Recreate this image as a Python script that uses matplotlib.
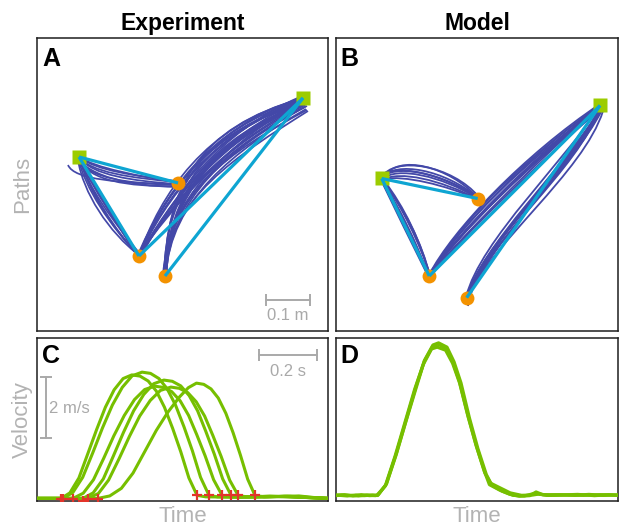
import matplotlib
matplotlib.use('Agg')
import matplotlib.pyplot as plt
from matplotlib.path import Path
from matplotlib.patches import PathPatch

plt.rcParams['font.family'] = ['Liberation Sans', 'DejaVu Sans']

# ---------------- data: panel A (experiment paths, cm) ----------------
A_target_names = ['S1', 'S2', 'O1', 'O2', 'O3']
A_target_x = [9.55, 60.45, 32.05, 23.18, 29.09]
A_target_y = [39.55, 52.95, 33.64, 17.05, 12.5]

# each path: cubic Bezier (start, control1, control2, end)
A_bundle_S1_O1 = [
    [(9.55, 39.55), (12.05, 36.14), (21.14, 34.77), (32.05, 33.86)],
    [(9.77, 39.32), (12.5, 35.45), (21.59, 34.09), (31.82, 33.41)],
    [(9.32, 39.09), (11.59, 34.77), (20.68, 33.41), (32.27, 33.18)],
    [(10.0, 39.32), (13.18, 36.59), (22.27, 35.23), (31.59, 34.09)],
    [(9.55, 38.86), (12.05, 34.32), (20.0, 32.73), (32.05, 32.95)],
    [(7.05, 37.73), (8.41, 34.32), (18.86, 33.64), (31.82, 33.41)],
    [(9.77, 39.55), (12.95, 37.05), (23.41, 35.23), (32.27, 33.64)],
    [(9.32, 39.32), (11.82, 35.23), (21.14, 32.95), (31.59, 32.73)],
]
A_bundle_S1_O2 = [
    [(9.55, 39.55), (11.59, 32.05), (17.05, 23.41), (23.18, 17.05)],
    [(9.77, 39.32), (12.05, 31.59), (17.73, 22.95), (22.95, 17.27)],
    [(9.32, 39.32), (10.91, 32.5), (16.59, 23.86), (23.41, 16.82)],
    [(9.55, 39.09), (12.95, 32.05), (18.41, 23.86), (23.18, 17.27)],
    [(10.0, 39.55), (12.5, 33.18), (17.95, 24.32), (22.73, 17.5)],
    [(9.32, 38.86), (10.45, 31.59), (16.14, 22.5), (23.41, 17.05)],
    [(9.77, 39.55), (13.41, 32.5), (18.86, 23.41), (22.95, 16.82)],
    [(9.55, 39.32), (11.36, 33.18), (17.27, 24.77), (23.64, 17.27)],
]
A_bundle_O2_S2 = [
    [(23.18, 17.05), (29.09, 29.77), (40.45, 45.68), (60.45, 52.73)],
    [(23.41, 17.27), (27.95, 29.77), (38.86, 46.59), (60.23, 52.95)],
    [(22.95, 16.82), (30.23, 29.32), (42.05, 44.32), (60.91, 52.27)],
    [(23.18, 17.27), (28.64, 30.91), (39.32, 46.14), (60.68, 52.05)],
    [(23.41, 16.82), (29.77, 28.64), (42.73, 43.41), (60.0, 52.5)],
    [(22.95, 17.27), (27.5, 28.64), (39.77, 47.5), (61.14, 51.59)],
    [(23.64, 17.05), (30.68, 30.23), (41.14, 45.23), (59.77, 53.18)],
    [(23.18, 16.82), (29.32, 27.95), (43.41, 42.27), (61.36, 51.14)],
    [(23.41, 17.05), (28.41, 30.23), (38.18, 45.68), (60.45, 51.82)],
    [(22.95, 17.05), (30.23, 27.5), (43.86, 43.86), (60.68, 52.5)],
    [(23.18, 17.05), (27.95, 30.91), (38.18, 46.82), (59.77, 52.73)],
    [(23.41, 17.05), (29.55, 29.09), (41.59, 44.55), (60.68, 52.73)],
    [(23.18, 16.82), (28.86, 30.23), (39.77, 45.23), (60.23, 52.27)],
    [(22.95, 17.05), (30.0, 28.41), (42.95, 42.95), (61.14, 51.82)],
]
A_bundle_O3_S2 = [
    [(29.09, 12.5), (29.32, 30.91), (40.45, 43.41), (60.45, 52.05)],
    [(28.86, 12.73), (29.55, 31.59), (41.59, 42.73), (60.68, 51.59)],
    [(29.32, 12.27), (30.0, 30.23), (43.86, 41.59), (60.91, 50.91)],
    [(29.09, 12.95), (28.86, 32.05), (38.18, 45.68), (60.0, 52.5)],
    [(28.64, 12.5), (29.77, 30.68), (42.73, 42.05), (60.91, 51.36)],
    [(29.32, 12.73), (30.23, 29.77), (45.0, 41.14), (61.14, 50.45)],
    [(28.86, 12.27), (29.09, 32.5), (39.32, 44.55), (60.23, 52.27)],
    [(29.09, 12.73), (29.77, 31.14), (43.41, 40.68), (61.36, 50.23)],
    [(29.55, 12.5), (29.09, 31.36), (39.77, 43.86), (60.68, 51.82)],
    [(29.09, 12.27), (30.0, 32.05), (42.05, 43.41), (60.45, 51.82)],
    [(28.86, 12.5), (29.32, 30.45), (44.32, 42.27), (61.14, 51.14)],
    [(29.32, 12.5), (28.64, 31.59), (37.05, 46.82), (59.77, 52.5)],
    [(29.09, 12.73), (30.23, 31.14), (41.14, 44.09), (60.91, 51.59)],
    [(28.86, 12.5), (29.55, 30.0), (45.68, 40.0), (61.59, 50.0)],
]

# ---------------- data: panel B (model paths, cm) ----------------
B_target_names = ['S1', 'S2', 'O1', 'O2', 'O3']
B_target_x = [10.39, 60.0, 32.2, 21.2, 29.7]
B_target_y = [34.66, 51.25, 30.11, 12.5, 7.57]

B_bundle_S1_O1 = [
    [(10.45, 34.77), (13.41, 38.86), (24.77, 36.59), (32.05, 30.45)],
    [(10.23, 34.55), (12.73, 38.18), (23.64, 36.14), (32.27, 30.23)],
    [(10.68, 34.77), (14.09, 40.68), (25.91, 37.05), (31.82, 30.68)],
    [(10.45, 34.32), (14.55, 36.59), (23.64, 34.32), (32.27, 30.0)],
    [(10.0, 35.0), (12.27, 38.41), (25.45, 35.68), (32.05, 30.23)],
    [(10.45, 34.55), (15.68, 35.45), (24.77, 33.18), (32.05, 30.0)],
    [(10.23, 34.77), (13.18, 40.0), (26.36, 37.73), (32.5, 30.45)],
    [(10.68, 34.55), (13.64, 37.5), (24.09, 35.23), (32.05, 30.23)],
]
B_bundle_S1_O2 = [
    [(10.45, 34.55), (14.55, 27.5), (18.18, 20.0), (21.14, 12.5)],
    [(10.68, 34.32), (15.23, 27.73), (18.86, 20.23), (21.36, 12.73)],
    [(10.23, 34.55), (14.09, 27.05), (17.73, 19.55), (21.14, 12.27)],
    [(10.45, 34.09), (15.0, 27.05), (18.64, 19.32), (20.91, 12.5)],
    [(10.68, 34.55), (15.68, 27.95), (19.09, 20.68), (21.36, 12.5)],
    [(10.45, 34.32), (14.32, 27.5), (17.95, 20.0), (21.14, 12.5)],
    [(10.45, 34.32), (15.91, 27.27), (19.55, 19.77), (21.36, 12.5)],
    [(10.23, 34.32), (13.64, 27.27), (17.27, 19.77), (20.91, 12.5)],
]
B_bundle_O2_S2 = [
    [(21.14, 12.5), (27.73, 22.5), (44.09, 38.86), (60.0, 51.14)],
    [(21.36, 12.73), (26.82, 23.41), (43.18, 39.77), (60.23, 51.36)],
    [(20.91, 12.27), (28.64, 21.59), (45.0, 37.95), (59.77, 50.91)],
    [(21.14, 12.73), (26.36, 22.95), (42.73, 40.0), (60.0, 51.59)],
    [(21.36, 12.27), (29.09, 22.05), (45.45, 37.5), (60.23, 50.68)],
    [(21.14, 12.5), (27.27, 23.18), (43.64, 39.32), (60.45, 51.14)],
    [(20.91, 12.5), (28.18, 22.27), (44.55, 38.41), (59.77, 51.36)],
    [(21.36, 12.5), (27.5, 21.82), (43.86, 38.18), (60.23, 50.91)],
    [(21.14, 12.27), (27.05, 22.73), (43.41, 39.55), (60.0, 51.36)],
    [(20.91, 12.73), (28.41, 22.73), (44.77, 38.64), (60.45, 50.91)],
]
B_bundle_O3_S2 = [
    [(29.77, 7.5), (33.18, 19.55), (54.32, 37.73), (60.0, 50.68)],
    [(29.55, 7.05), (32.27, 18.86), (53.18, 38.41), (60.23, 50.91)],
    [(30.0, 7.73), (34.09, 20.23), (55.45, 37.05), (59.77, 50.45)],
    [(29.77, 6.14), (32.73, 18.41), (53.64, 36.59), (60.45, 50.23)],
    [(29.55, 7.5), (33.64, 20.68), (55.0, 38.86), (60.0, 51.14)],
    [(30.0, 5.68), (31.82, 17.95), (52.27, 37.5), (60.23, 50.45)],
    [(29.77, 7.27), (34.55, 19.32), (56.36, 36.14), (60.68, 50.0)],
    [(29.55, 7.73), (32.73, 20.68), (52.73, 39.32), (59.77, 50.91)],
    [(29.77, 7.05), (33.86, 18.86), (54.55, 37.95), (60.45, 50.68)],
    [(30.0, 7.5), (32.5, 19.77), (53.86, 37.05), (60.0, 50.23)],
]

# straight reference segments (target name pairs), same for A and B
segments = [('S1', 'O1'), ('S1', 'O2'), ('O2', 'S2'), ('O3', 'S2')]

# ---------------- data: panel C (experiment velocity; s, m/s) ----------------
C_t = [
    [0, .05, .083, .113, .144, .174, .205, .235, .265, .296, .326,
     .354, .382, .410, .438, .466, .494, .522, .550, .58, .7, .8, .9, 1.0],
    [0, .05, .089, .123, .157, .191, .225, .259, .293, .327, .361,
     .390, .419, .447, .476, .505, .534, .562, .591, .62, .7, .8, .9, 1.0],
    [0, .06, .124, .159, .194, .229, .264, .300, .335, .370, .405,
     .434, .463, .492, .521, .549, .578, .607, .636, .67, .75, .85, .92, 1.0],
    [0, .08, .158, .193, .228, .262, .297, .332, .367, .401, .436,
     .465, .494, .523, .552, .580, .609, .638, .667, .70, .78, .86, .93, 1.0],
    [0, .09, .175, .211, .246, .282, .318, .353, .389, .424, .460,
     .489, .518, .547, .576, .604, .633, .662, .691, .72, .79, .87, .94, 1.0],
    [0, .1, .210, .25, .29, .33, .37, .41, .45, .49, .52, .548,
     .573, .598, .623, .649, .674, .699, .724, .749, .78, .84, .9, .95, 1.0],
]
C_v = [
    [.02, .02, .02, .20, .69, 1.47, 2.28, 3.01, 3.58, 3.95, 4.07,
     4.03, 3.87, 3.54, 3.01, 2.32, 1.55, .69, .12, .07, .06, .09, .06, .02],
    [.02, .02, .02, .21, .71, 1.50, 2.33, 3.08, 3.66, 4.04, 4.16,
     4.12, 3.95, 3.62, 3.08, 2.37, 1.58, .71, .12, .07, .06, .09, .06, .02],
    [.02, .02, .02, .19, .63, 1.33, 2.07, 2.74, 3.26, 3.59, 3.70,
     3.66, 3.52, 3.22, 2.74, 2.11, 1.41, .63, .12, .07, .07, .09, .05, .02],
    [.02, .02, .02, .20, .66, 1.40, 2.18, 2.89, 3.43, 3.78, 3.90,
     3.86, 3.71, 3.39, 2.89, 2.22, 1.48, .66, .12, .07, .07, .09, .05, .02],
    [.02, .02, .02, .18, .62, 1.32, 2.06, 2.72, 3.23, 3.56, 3.67,
     3.63, 3.49, 3.19, 2.72, 2.09, 1.39, .62, .12, .07, .07, .09, .05, .02],
    [.02, .02, .02, .10, .35, .85, 1.55, 2.25, 2.85, 3.35, 3.65, 3.80,
     3.76, 3.61, 3.31, 2.81, 2.17, 1.44, .65, .12, .07, .08, .10, .05, .02],
]
C_start_t = [.083, .089, .124, .158, .175, .210]
C_start_v = [.0, .0, .0, -.05, .0, .0]
C_end_t = [.550, .591, .636, .667, .691, .749]
C_end_v = [.12, .12, .12, .12, .12, .12]

# ---------------- data: panel D (model velocity) ----------------
D_t = [
    [0, .03, .06, .09, .12, .142, .148, .178, .214, .249, .285, .314, .344, .362,
     .391, .415, .439, .469, .498, .528, .546, .581, .617, .652, .690, .712, .736,
     .797, .85, .9, .95, 1.0],
    [0, .04, .07, .10, .13, .145, .175, .21, .245, .28, .31, .34, .36, .39, .415,
     .44, .47, .50, .53, .55, .585, .62, .66, .70, .72, .75, .80, .86, .92, .97, 1.0],
    [0, .02, .05, .08, .11, .14, .15, .18, .215, .25, .285, .315, .345, .365, .395,
     .42, .445, .475, .505, .535, .555, .59, .63, .67, .705, .725, .76, .82, .88,
     .94, 1.0],
]
D_v = [
    [.12, .14, .10, .14, .11, .12, .115, .47, 1.45, 2.55, 3.64, 4.51, 5.01, 5.08,
     4.95, 4.51, 3.86, 2.76, 1.78, .91, .47, .30, .16, .09, .11, .23, .14, .14,
     .12, .15, .12, .13],
    [.13, .10, .13, .11, .13, .12, .42, 1.40, 2.50, 3.60, 4.40, 4.92, 4.98, 4.88,
     4.45, 3.80, 2.70, 1.72, .85, .52, .36, .20, .12, .13, .16, .12, .13, .15,
     .11, .14, .12],
    [.11, .13, .12, .10, .13, .11, .13, .50, 1.50, 2.60, 3.70, 4.55, 5.05, 5.12,
     4.98, 4.50, 3.80, 2.65, 1.65, .80, .45, .26, .12, .10, .18, .16, .12, .13,
     .12, .14, .13],
]

# ---------------- styling ----------------
PATH_C = '#4348a8'
CYAN = '#0ea5d2'
LIME = '#9ccc00'
ORANGE = '#f39200'
GREEN = '#76bf00'
RED = '#e3342a'
GRAY = '#b3b3b3'
SCALE_GRAY = '#a9a9a9'
FRAME = '#1e1e1e'

W, H = 619, 526
fig = plt.figure(figsize=(W / 100, H / 100), dpi=100)


def ax_px(x0, y0, x1, y1):
    return fig.add_axes([x0 / W, 1 - y1 / H, (x1 - x0) / W, (y1 - y0) / H])


axA = ax_px(37, 38, 328, 331)
axB = ax_px(336, 38, 618, 331)
axC = ax_px(37, 338, 328, 501)
axD = ax_px(336, 338, 618, 501)

for ax in (axA, axB, axC, axD):
    ax.set_xticks([])
    ax.set_yticks([])
    for s in ax.spines.values():
        s.set_color(FRAME)
        s.set_linewidth(1.1)

axA.set_xlim(0, 291 / 4.4)
axA.set_ylim(0, 293 / 4.4)
axB.set_xlim(0, 282 / 4.4)
axB.set_ylim(0, 293 / 4.4)
axC.set_xlim(0, 1.0)
axC.set_ylim(-0.066, 5.28)
axD.set_xlim(0, 282 / 281)
axD.set_ylim(-0.066, 5.28)


def draw_paths(ax, bundles, names, tx, ty, lw):
    codes = [Path.MOVETO, Path.CURVE4, Path.CURVE4, Path.CURVE4]
    for n, x, y in zip(names, tx, ty):
        if n.startswith('S'):
            ax.plot(x, y, marker='s', ms=9.5, color=LIME, mec='none', zorder=5)
        else:
            ax.plot(x, y, marker='o', ms=10, color=ORANGE, mec='none', zorder=5)
    for bundle in bundles:
        for verts in bundle:
            patch = PathPatch(Path(verts, codes), facecolor='none',
                              edgecolor=PATH_C, lw=lw, zorder=4)
            ax.add_patch(patch)
    pos = {n: (x, y) for n, x, y in zip(names, tx, ty)}
    for a, b in segments:
        ax.plot([pos[a][0], pos[b][0]], [pos[a][1], pos[b][1]], color=CYAN,
                lw=2.3, solid_capstyle='butt', zorder=6)


draw_paths(axA, [A_bundle_S1_O1, A_bundle_S1_O2, A_bundle_O2_S2, A_bundle_O3_S2],
           A_target_names, A_target_x, A_target_y, 1.25)
draw_paths(axB, [B_bundle_S1_O1, B_bundle_S1_O2, B_bundle_O2_S2, B_bundle_O3_S2],
           B_target_names, B_target_x, B_target_y, 1.3)

# velocity curves
for t, v in zip(C_t, C_v):
    axC.plot(t, v, color=GREEN, lw=2.2, solid_capstyle='round', zorder=3)
axC.plot(C_start_t, C_start_v, ls='none', marker='+', ms=7, mew=1.6, color=RED, zorder=4)
axC.plot(C_end_t, C_end_v, ls='none', marker='+', ms=7, mew=1.6, color=RED, zorder=4)

for t, v in zip(D_t, D_v):
    axD.plot(t, v, color=GREEN, lw=2.3, zorder=3)

# scale bars
axA.plot([52.05, 62.05], [7.05, 7.05], color=SCALE_GRAY, lw=1.4,
         marker='|', ms=8, mew=1.4)
axA.text(57.05, 2.5, '0.1 m', color=SCALE_GRAY, fontsize=12, ha='center', va='baseline')
axC.plot([0.763, 0.963], [4.72, 4.72], color=SCALE_GRAY, lw=1.4,
         marker='|', ms=8, mew=1.4)
axC.text(0.863, 4.03, '0.2 s', color=SCALE_GRAY, fontsize=12, ha='center', va='baseline')
axC.plot([0.031, 0.031], [2.0, 4.0], color=SCALE_GRAY, lw=1.4,
         marker='_', ms=8, mew=1.4)
axC.text(0.041, 2.81, '2 m/s', color=SCALE_GRAY, fontsize=12, ha='left', va='baseline')

# panel letters
for ax, lab, y in ((axA, 'A', 0.905), (axB, 'B', 0.905), (axC, 'C', 0.847), (axD, 'D', 0.847)):
    ax.text(0.017, y, lab, transform=ax.transAxes, fontsize=18, fontweight='bold',
            ha='left', va='baseline', zorder=10)

# titles
axA.text(0.5, 1 + 8 / 293, 'Experiment', transform=axA.transAxes, fontsize=16.5,
         fontweight='bold', ha='center', va='baseline')
axB.text(0.5, 1 + 8 / 293, 'Model', transform=axB.transAxes, fontsize=16.5,
         fontweight='bold', ha='center', va='baseline')

# axis labels
axA.text(-8.7 / 291, 0.5, 'Paths', transform=axA.transAxes, fontsize=16, color=GRAY,
         rotation=90, rotation_mode='anchor', ha='center', va='baseline')
axC.text(-8.7 / 291, 0.5, 'Velocity', transform=axC.transAxes, fontsize=16, color=GRAY,
         rotation=90, rotation_mode='anchor', ha='center', va='baseline')
axC.text(0.5, -20.7 / 163, 'Time', transform=axC.transAxes, fontsize=16, color=GRAY,
         ha='center', va='baseline')
axD.text(0.5, -20.7 / 163, 'Time', transform=axD.transAxes, fontsize=16, color=GRAY,
         ha='center', va='baseline')

fig.savefig('out.png', dpi=100)
